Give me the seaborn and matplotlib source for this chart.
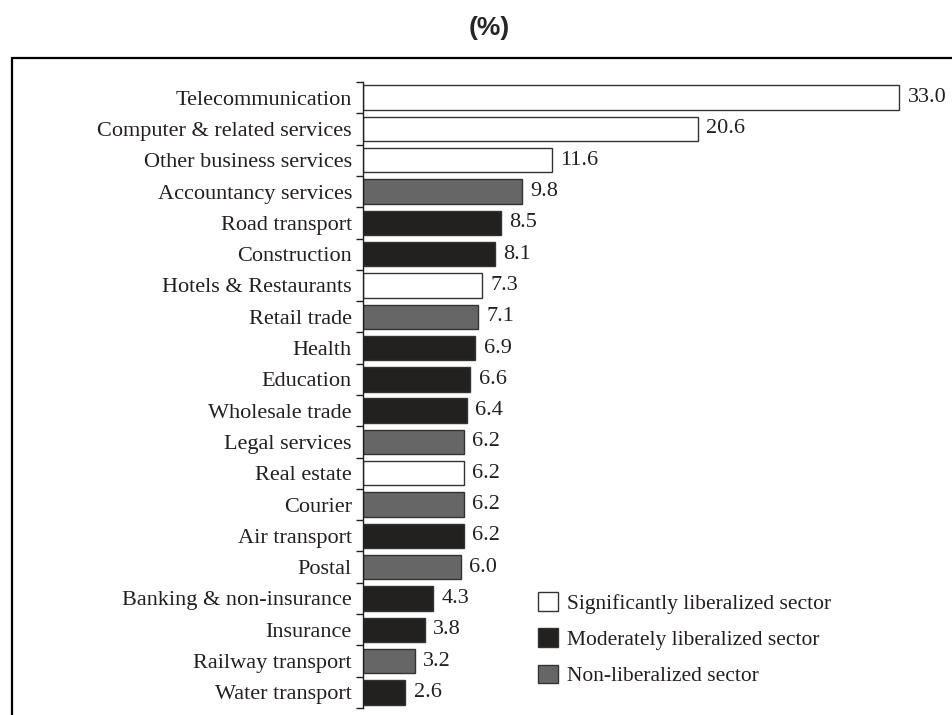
import pandas as pd
import seaborn as sns
import matplotlib.pyplot as plt
from matplotlib.patches import Rectangle
from matplotlib.ticker import FixedLocator

sectors = ['Telecommunication', 'Computer & related services', 'Other business services',
           'Accountancy services', 'Road transport', 'Construction', 'Hotels & Restaurants',
           'Retail trade', 'Health', 'Education', 'Wholesale trade', 'Legal services',
           'Real estate', 'Courier', 'Air transport', 'Postal', 'Banking & non-insurance',
           'Insurance', 'Railway transport', 'Water transport']
values = [33.0, 20.6, 11.6, 9.8, 8.5, 8.1, 7.3, 7.1, 6.9, 6.6, 6.4, 6.2, 6.2, 6.2, 6.2,
          6.0, 4.3, 3.8, 3.2, 2.6]
groups = ['S', 'S', 'S', 'N', 'M', 'M', 'S', 'N', 'M', 'M', 'M', 'N', 'S', 'N', 'M',
          'N', 'M', 'M', 'N', 'M']
group_names = {'S': 'Significantly liberalized sector',
               'M': 'Moderately liberalized sector',
               'N': 'Non-liberalized sector'}

df = pd.DataFrame({'sector': sectors, 'value': values,
                   'group': [group_names[g] for g in groups]})

sns.set_style('white')
plt.rcParams['font.family'] = ['Liberation Serif', 'DejaVu Serif']

fig = plt.figure(figsize=(9.53, 7.15), dpi=100)
ax = fig.add_axes([0.381, 0.0098, 0.619, 0.8755])

order = list(group_names.values())
palette = {order[0]: 'white', order[1]: '#231f20', order[2]: '#666666'}
sns.barplot(data=df, y='sector', x='value', hue='group', hue_order=order,
            order=sectors, palette=palette, dodge=False, width=0.78,
            edgecolor='#333333', linewidth=1.0, ax=ax)

for c in ax.containers:
    labels = ['%.1f' % b.get_width() if b.get_width() > 0 else '' for b in c]
    ax.bar_label(c, labels=labels, padding=6, fontsize=16, color='#231f20')

ax.set_xlim(0, 36.3)
ax.set_ylim(len(sectors) - 0.5, -0.5)
ax.set_xlabel('')
ax.set_ylabel('')
ax.set_xticks([])
for s in ['top', 'right', 'bottom']:
    ax.spines[s].set_visible(False)
ax.spines['left'].set_color('#231f20')
ax.spines['left'].set_linewidth(1.0)
ax.tick_params(axis='y', which='major', length=0, pad=8, labelsize=16,
               labelcolor='#231f20')
ax.yaxis.set_minor_locator(FixedLocator([i - 0.5 for i in range(len(sectors) + 1)]))
ax.tick_params(axis='y', which='minor', left=True, length=5, width=1.0,
               color='#231f20', direction='out')

leg = ax.legend(loc='upper left', bbox_to_anchor=(0.555, 0.184),
                bbox_transform=fig.transFigure, frameon=False, fontsize=15.5,
                handlelength=0.95, handleheight=0.95, handletextpad=0.4,
                labelspacing=0.68, borderaxespad=0)
for t in leg.get_texts():
    t.set_color('#231f20')

fig.text(0.513, 0.961, '(%)', ha='center', va='center', fontsize=19,
         fontweight='bold', family=['Liberation Sans', 'DejaVu Sans'])

fig.patches.append(Rectangle((0.0126, -0.2), 1.2, 1.1189, transform=fig.transFigure,
                             fill=False, edgecolor='black', linewidth=1.6,
                             clip_on=False, figure=fig))

fig.savefig('out.png', dpi=100)
